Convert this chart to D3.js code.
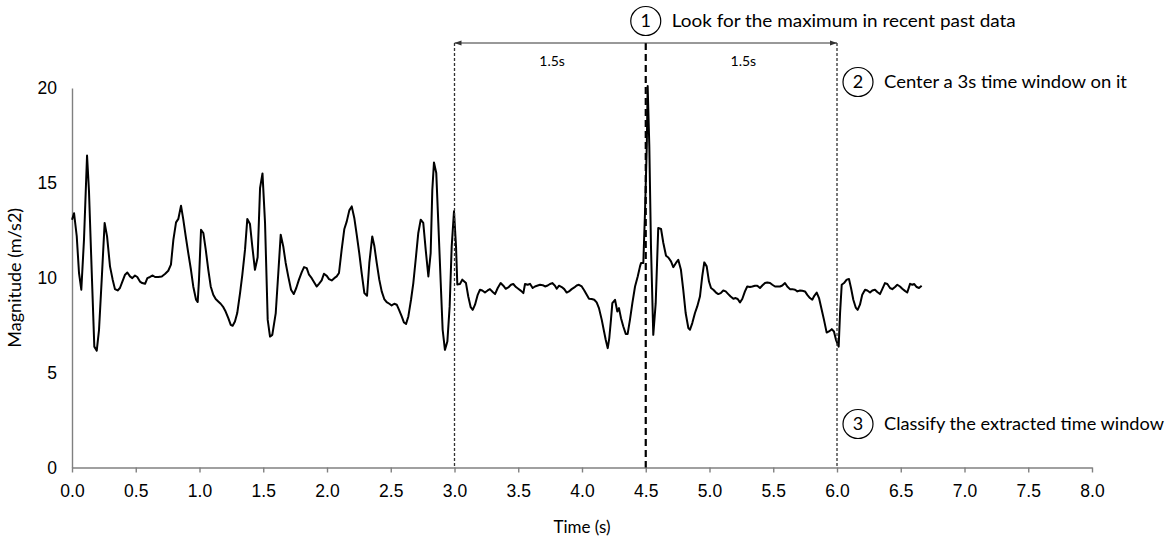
<!DOCTYPE html>
<html>
<head>
<meta charset="utf-8">
<script src="https://cdn.jsdelivr.net/npm/d3@7"></script>
<style>
  body { margin: 0; background: #fff; }
  svg { font-family: Lato, "Open Sans", sans-serif; }
</style>
</head>
<body>
<div id="chart"></div>
<script>
// samples (seconds, m/s2)
const times = [
  0.000,0.016,0.037,0.055,0.073,0.094,0.118,0.133,0.155,0.175,0.194,0.212,0.233,0.256,0.275,0.298,
  0.319,0.337,0.358,0.376,0.395,0.416,0.434,0.455,0.473,0.494,0.512,0.533,0.551,0.573,0.591,0.612,
  0.633,0.651,0.677,0.704,0.729,0.755,0.776,0.795,0.816,0.834,0.855,0.873,0.892,0.912,0.933,0.951,
  0.973,0.986,0.996,1.012,1.030,1.049,1.069,1.088,1.108,1.127,1.147,1.166,1.187,1.205,1.226,1.245,
  1.260,1.278,1.296,1.318,1.336,1.357,1.375,1.396,1.414,1.435,1.456,1.475,1.494,1.514,1.535,1.553,
  1.571,1.598,1.618,1.637,1.657,1.676,1.696,1.718,1.739,1.759,1.780,1.802,1.820,1.841,1.859,1.880,
  1.900,1.919,1.937,1.958,1.976,1.998,2.016,2.037,2.057,2.076,2.094,2.115,2.136,2.155,2.175,2.194,
  2.214,2.233,2.253,2.272,2.293,2.314,2.332,2.355,2.371,2.390,2.410,2.429,2.449,2.468,2.489,2.507,
  2.528,2.547,2.565,2.586,2.604,2.620,2.638,2.659,2.677,2.698,2.716,2.735,2.755,2.774,2.795,2.813,
  2.826,2.839,2.857,2.873,2.892,2.907,2.925,2.944,2.962,2.978,2.996,3.012,3.022,3.043,3.061,3.077,
  3.090,3.108,3.127,3.143,3.161,3.182,3.200,3.218,3.239,3.260,3.278,3.300,3.318,3.339,3.362,3.383,
  3.402,3.422,3.443,3.461,3.482,3.500,3.522,3.540,3.553,3.574,3.592,3.613,3.631,3.653,3.671,3.692,
  3.710,3.731,3.749,3.767,3.788,3.802,3.820,3.841,3.861,3.880,3.898,3.919,3.940,3.958,3.976,3.998,
  4.018,4.037,4.055,4.076,4.096,4.115,4.133,4.155,4.173,4.186,4.202,4.214,4.227,4.238,4.259,4.277,
  4.290,4.306,4.324,4.343,4.358,4.376,4.395,4.416,4.437,4.455,4.463,4.481,4.494,4.508,4.515,4.528,
  4.541,4.559,4.578,4.598,4.620,4.638,4.659,4.677,4.698,4.716,4.737,4.755,4.776,4.794,4.813,4.834,
  4.847,4.865,4.886,4.904,4.925,4.943,4.959,4.978,4.996,5.012,5.030,5.051,5.069,5.088,5.108,5.127,
  5.147,5.166,5.187,5.205,5.221,5.239,5.257,5.278,5.296,5.318,5.336,5.357,5.375,5.396,5.414,5.435,
  5.453,5.475,5.493,5.514,5.532,5.553,5.571,5.592,5.610,5.631,5.649,5.671,5.689,5.710,5.728,5.749,
  5.767,5.788,5.806,5.822,5.841,5.859,5.880,5.898,5.919,5.937,5.959,5.976,5.992,6.013,6.024,6.037,
  6.055,6.076,6.094,6.110,6.128,6.147,6.162,6.180,6.198,6.220,6.238,6.259,6.277,6.298,6.316,6.337,
  6.355,6.376,6.395,6.416,6.434,6.455,6.473,6.494,6.512,6.533,6.551,6.573,6.591,6.606,6.625,6.643,
  6.664
]
const magnitudes = [
  13.06,13.40,12.20,10.25,9.37,12.00,16.44,14.60,10.25,6.37,6.16,7.26,9.90,12.89,12.18,10.60,
  9.90,9.40,9.33,9.46,9.80,10.16,10.28,10.07,9.98,10.12,10.04,9.80,9.72,9.68,9.98,10.04,
  10.12,10.04,10.04,10.07,10.20,10.37,10.69,12.00,12.92,13.10,13.80,13.06,12.18,11.30,10.42,9.54,
  8.84,8.72,9.90,12.53,12.36,11.48,10.42,9.54,9.10,8.88,8.75,8.63,8.45,8.22,7.87,7.52,
  7.47,7.69,8.14,9.19,10.16,11.48,13.10,12.83,11.65,10.42,11.08,14.73,15.50,12.89,7.78,6.90,
  6.99,8.14,10.25,12.27,11.65,10.78,10.07,9.37,9.14,9.46,9.90,10.30,10.56,10.51,10.16,9.98,
  9.75,9.54,9.68,9.86,10.21,10.10,9.93,9.86,9.98,10.07,10.25,11.48,12.57,12.97,13.55,13.76,
  13.15,12.27,11.30,10.25,9.19,9.05,10.78,12.18,11.69,10.78,9.90,9.28,8.88,8.72,8.63,8.54,
  8.63,8.58,8.31,7.96,7.64,7.57,7.96,8.84,9.72,11.12,12.36,13.06,12.89,11.48,10.07,11.30,
  14.64,16.08,15.52,12.89,9.72,7.26,6.20,6.64,8.49,11.65,13.50,11.65,9.65,9.67,9.90,9.80,
  9.72,9.01,8.45,8.31,8.58,9.10,9.37,9.33,9.22,9.33,9.40,9.25,9.14,9.46,9.72,9.58,
  9.42,9.49,9.63,9.67,9.51,9.42,9.31,9.19,9.67,9.63,9.68,9.46,9.54,9.59,9.63,9.61,
  9.54,9.59,9.67,9.72,9.58,9.42,9.58,9.51,9.40,9.22,9.28,9.40,9.49,9.59,9.63,9.54,
  9.33,9.10,8.89,8.88,8.84,8.70,8.40,7.78,7.17,6.73,6.29,6.82,7.78,8.66,8.84,8.22,
  8.40,7.87,7.43,7.04,7.04,7.78,8.66,9.54,10.07,10.60,10.78,10.78,13.41,16.93,20.10,16.93,
  11.65,6.99,8.66,12.62,12.57,11.83,11.16,11.07,10.86,10.56,10.78,10.95,10.42,9.37,8.14,7.35,
  7.26,7.61,8.14,8.49,9.01,10.07,10.81,10.60,9.80,9.46,9.37,9.22,9.14,9.19,9.33,9.28,
  9.14,9.01,8.89,8.93,8.88,8.70,8.88,9.28,9.54,9.51,9.54,9.58,9.58,9.46,9.59,9.72,
  9.75,9.72,9.63,9.54,9.54,9.54,9.59,9.72,9.54,9.40,9.40,9.37,9.28,9.33,9.31,9.28,
  9.10,8.93,8.84,9.05,9.22,8.93,8.31,7.78,7.11,7.17,7.29,7.17,6.73,6.37,8.14,9.63,
  9.72,9.90,9.93,9.46,8.84,8.43,8.31,8.58,9.10,9.37,9.33,9.22,9.33,9.37,9.25,9.14,
  9.40,9.72,9.67,9.46,9.40,9.51,9.63,9.54,9.42,9.31,9.22,9.68,9.63,9.67,9.51,9.46,
  9.58
]

const xTicks = [0, 0.5, 1, 1.5, 2, 2.5, 3, 3.5, 4, 4.5, 5, 5.5, 6, 6.5, 7, 7.5, 8]
const yTicks = [0, 5, 10, 15, 20]

const windowStart = 3.0
const peakTime = 4.5
const windowEnd = 6.0
const halfLabel = "1.5s"
const steps = [
  "Look for the maximum in recent past data",
  "Center a 3s time window on it",
  "Classify the extracted time window"
]

const width = 1170, height = 542

const x = d3.scaleLinear().domain([0, 8]).range([72, 1092])
const y = d3.scaleLinear().domain([0, 20]).range([467.5, 88])

const svg = d3.select("#chart").append("svg")
    .attr("width", width)
    .attr("height", height)

const axisColor = "#808080"

// x axis
const xAxis = svg.append("g")
    .attr("transform", `translate(0,${y(0)})`)
    .call(d3.axisBottom(x).tickValues(xTicks).tickSize(5).tickSizeOuter(0).tickPadding(12)
        .tickFormat(d3.format(".1f")))
xAxis.select(".domain").attr("stroke", axisColor).attr("stroke-width", 1.4)
xAxis.selectAll(".tick line").attr("stroke", axisColor).attr("stroke-width", 1.4)
xAxis.selectAll("text").attr("font-size", 17.5).attr("fill", "#000")

// y axis
const yAxis = svg.append("g")
    .attr("transform", `translate(${x(0)},0)`)
    .call(d3.axisLeft(y).tickValues(yTicks).tickSize(0).tickPadding(15))
yAxis.select(".domain").attr("stroke", axisColor).attr("stroke-width", 1.4)
yAxis.selectAll("text").attr("font-size", 17.5).attr("fill", "#000")

svg.append("text")
    .attr("x", x(4))
    .attr("y", 533)
    .attr("text-anchor", "middle")
    .attr("font-size", 17)
    .text("Time (s)")

svg.append("text")
    .attr("transform", `translate(21,${y(10)}) rotate(-90)`)
    .attr("text-anchor", "middle")
    .attr("font-size", 18)
    .text("Magnitude (m/s2)")

// signal
const line = d3.line()
    .x((d, i) => x(times[i]))
    .y(d => y(d))

svg.append("path")
    .datum(magnitudes)
    .attr("fill", "none")
    .attr("stroke", "#000")
    .attr("stroke-width", 2)
    .attr("stroke-linejoin", "round")
    .attr("d", line)

// window markers
const topY = 43
svg.selectAll("line.edge")
    .data([windowStart, windowEnd])
    .enter().append("line")
    .attr("class", "edge")
    .attr("x1", d => x(d)).attr("x2", d => x(d))
    .attr("y1", topY).attr("y2", y(0))
    .attr("stroke", "#333")
    .attr("stroke-width", 1.3)
    .attr("stroke-dasharray", "3,2")

svg.append("line")
    .attr("x1", x(peakTime)).attr("x2", x(peakTime))
    .attr("y1", topY).attr("y2", y(0))
    .attr("stroke", "#000")
    .attr("stroke-width", 2.2)
    .attr("stroke-dasharray", "7,4")

svg.append("defs").append("marker")
    .attr("id", "arr")
    .attr("viewBox", "0 0 10 10")
    .attr("refX", 10).attr("refY", 5)
    .attr("markerWidth", 7).attr("markerHeight", 7)
    .attr("orient", "auto-start-reverse")
    .append("path")
    .attr("d", "M0,1.5L10,5L0,8.5Z")
    .attr("fill", "#333")

svg.append("line")
    .attr("x1", x(windowStart)).attr("x2", x(windowEnd))
    .attr("y1", topY).attr("y2", topY)
    .attr("stroke", "#333")
    .attr("stroke-width", 1)
    .attr("marker-start", "url(#arr)")
    .attr("marker-end", "url(#arr)")

svg.selectAll("text.half")
    .data([(windowStart + peakTime) / 2, (peakTime + windowEnd) / 2])
    .enter().append("text")
    .attr("class", "half")
    .attr("x", d => x(d) + 2)
    .attr("y", 66)
    .attr("text-anchor", "middle")
    .attr("font-size", 14)
    .text(halfLabel)

// numbered steps
const stepPos = [[x(peakTime), 21], [x(windowEnd) + 21, 82], [x(windowEnd) + 21, 424]]
const stepWidth = [344, 243, 280]
const stepG = svg.selectAll("g.step")
    .data(steps)
    .enter().append("g")
    .attr("class", "step")
    .attr("transform", (d, i) => `translate(${stepPos[i][0]},${stepPos[i][1]})`)

stepG.append("ellipse")
    .attr("rx", 15).attr("ry", 14.5)
    .attr("fill", "#fff")
    .attr("stroke", "#000")
    .attr("stroke-width", 1.2)

stepG.append("text")
    .attr("text-anchor", "middle")
    .attr("dy", "0.36em")
    .attr("font-size", 18)
    .text((d, i) => i + 1)

stepG.append("text")
    .attr("x", 26)
    .attr("dy", "0.36em")
    .attr("font-size", 18)
    .attr("textLength", (d, i) => stepWidth[i])
    .attr("lengthAdjust", "spacingAndGlyphs")
    .text(d => d)
</script>
</body>
</html>
